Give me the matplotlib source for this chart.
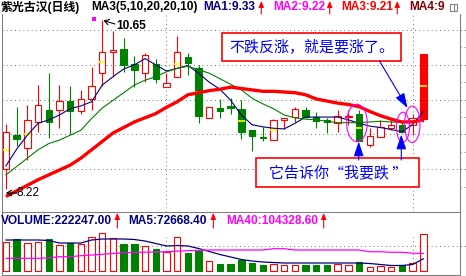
import matplotlib
matplotlib.use("Agg")
import matplotlib.pyplot as plt
from matplotlib.patches import Rectangle, Ellipse, FancyArrowPatch

# daily bars
opens = [8.50, 8.99, 8.80, 9.18, 9.35, 9.35, 9.48, 9.34, 9.51, 9.88,
         10.19, 10.23, 10.01, 9.88, 10.01, 9.68, 9.83, 10.11, 9.96, 9.23,
         9.38, 9.41, 9.37, 9.06, 8.97, 8.92, 9.21, 9.25, 9.35, 9.25,
         9.21, 9.17, 9.25, 9.30, 8.85, 8.97, 9.10, 9.14, 9.14, 9.22]
highs = [9.15, 9.40, 9.42, 9.71, 9.89, 9.71, 9.70, 9.64, 9.97, 10.65,
         10.48, 10.38, 10.12, 10.17, 10.09, 9.88, 10.41, 10.17, 10.00, 9.40,
         9.51, 9.52, 9.50, 9.06, 9.11, 9.22, 9.24, 9.40, 9.39, 9.33,
         9.23, 9.35, 9.35, 9.35, 9.09, 9.21, 9.21, 9.18, 9.30, 10.15]
lows = [8.22, 8.83, 8.63, 9.04, 8.95, 9.10, 9.00, 9.30, 9.35, 9.69,
        9.83, 9.90, 9.68, 9.76, 9.74, 9.68, 9.83, 9.85, 9.16, 9.23,
        9.24, 9.30, 8.93, 8.76, 8.90, 8.92, 9.08, 9.18, 9.23, 9.10,
        9.02, 9.04, 9.14, 8.90, 8.82, 8.97, 9.07, 9.02, 8.99, 9.18]
closes = [9.04, 8.93, 9.21, 9.43, 9.18, 9.48, 9.34, 9.51, 9.69, 10.18,
          10.22, 10.00, 9.93, 10.14, 9.79, 9.74, 10.18, 10.03, 9.27, 9.39,
          9.34, 9.38, 9.03, 8.98, 8.95, 9.21, 9.24, 9.37, 9.25, 9.20,
          9.18, 9.27, 9.27, 8.90, 8.98, 9.11, 9.14, 9.04, 9.23, 10.15]
volumes = [171000, 193000, 166000, 171000, 193000, 153100, 168600, 159100, 203000, 228000,
           197000, 160900, 160900, 147200, 132900, 111400, 204000, 105500, 119200, 59600,
           39900, 39900, 65500, 49500, 35700, 39900, 35700, 35700, 35700, 35700,
           35700, 43500, 35700, 53600, 23800, 32000, 26000, 38000, 45100, 222247]

# moving average lines as drawn
ma5 = [8.55, 8.79, 8.99, 9.16, 9.21, 9.28, 9.37, 9.41, 9.47, 9.71,
       9.83, 9.94, 10.00, 10.09, 10.00, 9.91, 9.95, 9.99, 9.88, 9.75,
       9.65, 9.49, 9.28, 9.14, 9.11, 9.09, 9.08, 9.16, 9.25, 9.25,
       9.25, 9.25, 9.21, 9.16, 9.12, 9.10, 9.07, 9.04, 9.14, 9.33]
ma10 = [8.42, 8.54, 8.66, 8.78, 8.87, 8.92, 8.99, 9.06, 9.23, 9.38,
        9.49, 9.60, 9.71, 9.78, 9.83, 9.90, 9.95, 9.98, 9.93, 9.88,
        9.80, 9.72, 9.64, 9.52, 9.44, 9.37, 9.28, 9.24, 9.22, 9.21,
        9.19, 9.17, 9.17, 9.17, 9.18, 9.19, 9.18, 9.17, 9.18, 9.22]
ma20 = [8.11, 8.19, 8.27, 8.35, 8.42, 8.49, 8.56, 8.66, 8.78, 8.90,
        9.02, 9.10, 9.18, 9.24, 9.30, 9.39, 9.47, 9.57, 9.60, 9.63,
        9.65, 9.68, 9.66, 9.64, 9.62, 9.62, 9.61, 9.60, 9.57, 9.51,
        9.48, 9.45, 9.43, 9.40, 9.33, 9.27, 9.22, 9.18, 9.18, 9.21]
vol_ma5 = [184700, 184700, 184700, 184700, 181700, 166800, 166800, 166800, 184700, 190700,
           190700, 190700, 187700, 178700, 163800, 149000, 151900, 149000, 134100, 116200,
           98300, 83400, 68500, 59600, 53600, 50600, 47700, 47700, 47700, 47700,
           47700, 47700, 47700, 47700, 44700, 38700, 32800, 32800, 38700, 72668]
vol_ma40 = [75700, 75700, 75700, 75700, 77500, 85200, 85200, 91200, 95300, 99500,
            104300, 109000, 110200, 112000, 113200, 115000, 118000, 120900, 123300, 125100,
            125100, 125100, 125100, 125100, 125100, 132900, 132900, 125100, 125100, 125100,
            125100, 125100, 125100, 125100, 115000, 115000, 111400, 111400, 106000, 104328.6]

# yellow average-price ticks
mark_idx = [0, 2, 9, 16, 18, 22, 25, 33, 39]
mark_price = [8.78, 9.01, 10.04, 10.01, 9.61, 9.19, 9.06, 9.10, 9.69]

price_grid = [8.5, 9.0, 9.5, 10.0, 10.5]
month_lines = [15, 38]

RED, GREEN, NAVY, MAG = "#ff0000", "#008000", "#000080", "#ff00ff"
GREY = "#808080"
DOT = (0, (1, 3))

W, H = 466, 276
fig = plt.figure(figsize=(W / 100, H / 100), dpi=100)
fig.patch.set_facecolor("white")


def fx(x):
    return x / W


def fy(y):
    return 1 - y / H


ax = fig.add_axes([fx(2), fy(212), fx(460) - fx(2), fy(14) - fy(212)])
axv = fig.add_axes([fx(2), fy(275), fx(460) - fx(2), fy(212) - fy(275)], sharex=ax)
for a in (ax, axv):
    a.set_xticks([])
    a.set_yticks([])
    for s in a.spines.values():
        s.set_color(GREY)
        s.set_linewidth(0.8)
ax.spines["top"].set_visible(False)
ax.spines["bottom"].set_visible(False)
ax.set_xlim(-0.37, 42.43)
ax.set_ylim(7.887, 10.73)
axv.set_ylim(-23800, 351500)

# grid
for p in price_grid:
    ax.axhline(p, xmin=0, xmax=1.013, color=GREY, lw=0.75, ls=DOT, clip_on=False, zorder=1)
    ax.axhline(p - 0.25, xmin=1, xmax=1.013, color=GREY, lw=0.75, ls=DOT, clip_on=False)
for m in month_lines:
    ax.axvline(m, color=GREY, lw=0.75, ls=DOT, zorder=1)
    axv.vlines(m, 0, 202000, color=GREY, lw=0.75, ls=DOT, zorder=1)
axv.axhline(150000, xmin=0, xmax=1.013, color=GREY, lw=0.75, ls=DOT, clip_on=False, zorder=1)

# candles
w = 0.6
for i in range(len(closes)):
    o, h, l, c = opens[i], highs[i], lows[i], closes[i]
    up = c >= o
    col = RED if up else GREEN
    ax.vlines(i, l, h, color=col, lw=0.8, zorder=3)
    face = "white" if up else col
    if i == len(closes) - 1:
        face = RED
    ax.add_patch(Rectangle((i - w / 2, min(o, c)), w, max(abs(c - o), 0.012),
                           fc=face, ec=col, lw=0.8, zorder=4))
    axv.add_patch(Rectangle((i - w / 2, 0), w, volumes[i],
                            fc="white" if up else col, ec=col, lw=0.8, zorder=3))

for i, p in zip(mark_idx, mark_price):
    ax.hlines(p, i - w / 2, i + w / 2, color="#ffff00", lw=1.2, zorder=5)

x = list(range(len(closes)))
ax.plot(x, ma5, color=NAVY, lw=0.8, zorder=6)
ax.plot(x, ma10, color=GREEN, lw=0.8, zorder=6)
ax.plot(x, ma20, color=RED, lw=2.4, zorder=7, solid_capstyle="butt")
axv.plot(x, vol_ma5, color=NAVY, lw=0.9, zorder=5)
axv.plot(x, vol_ma40, color=MAG, lw=0.9, zorder=5)

# ellipses around the key candles
for cx, cy, ew, eh in [(32.8, 9.165, 1.93, 0.537), (37.1, 9.105, 1.21, 0.43),
                       (37.97, 9.146, 1.45, 0.524)]:
    ax.add_patch(Ellipse((cx, cy), ew, eh, fill=False, ec=MAG, lw=0.8, zorder=8))

# header rows
bold = dict(fontsize=8.6, fontweight="bold", family=["Liberation Sans", "Noto Sans CJK SC"],
            va="center", ha="left")
fig.text(fx(1), fy(7), "紫光古汉(日线)", color="black", **bold)
fig.text(fx(91), fy(7), "MA3(5,10,20,20,10)", color="black", **bold)
fig.text(fx(203), fy(7), "MA1:9.33", color=NAVY, **bold)
fig.text(fx(273), fy(7), "MA2:9.22", color=MAG, **bold)
fig.text(fx(341), fy(7), "MA3:9.21", color=RED, **bold)
fig.text(fx(409), fy(7), "MA4:9", color="#800000", **bold)
fig.text(fx(1), fy(221.5), "VOLUME:222247.00", color=NAVY, **bold)
fig.text(fx(128), fy(221.5), "MA5:72668.40", color=NAVY, **bold)
fig.text(fx(226), fy(221.5), "MA40:104328.60", color=MAG, **bold)


def arrow(x0, y0, x1, y1, col, style, scale, lw):
    fig.add_artist(FancyArrowPatch((fx(x0), fy(y0)), (fx(x1), fy(y1)),
                                   transform=fig.transFigure, arrowstyle=style,
                                   mutation_scale=scale, color=col, lw=lw,
                                   shrinkA=0, shrinkB=0))


small = "-|>,head_length=0.6,head_width=0.25"
for ax_x in [261.3, 329.7, 397.3]:
    arrow(ax_x, 14, ax_x, 1, RED, small, 6, 0.8)
for ax_x in [117.3, 213.3, 323.7]:
    arrow(ax_x, 228, ax_x, 213, RED, small, 6, 0.8)

fig.add_artist(Rectangle((fx(450), fy(11)), fx(457) - fx(450), fy(4) - fy(11),
                         transform=fig.transFigure, fill=False, ec=GREY, lw=0.8))
fig.add_artist(plt.Line2D([fx(453.5), fx(453.5)], [fy(11), fy(4)],
                          transform=fig.transFigure, color=GREY, lw=0.8))

# high / low labels
fig.add_artist(Rectangle((fx(91.5), fy(21)), 4 / W, 4 / H, transform=fig.transFigure,
                         fc=MAG, ec="none"))
arrow(115, 24, 103.5, 20.5, "black", "->,head_length=0.4,head_width=0.25", 8, 0.8)
fig.text(fx(116), fy(26), "10.65", fontsize=8.6, fontweight="bold",
         family="Liberation Sans", va="center", ha="left")
arrow(17, 193, 6, 193, "black", "->,head_length=0.4,head_width=0.25", 8, 0.8)
fig.text(fx(16.5), fy(192.5), "8.22", fontsize=8.6, family="Liberation Sans",
         va="center", ha="left")

# comment boxes
for x0, y0, x1, y1 in [(222, 33, 401, 61), (256, 158, 419, 187)]:
    fig.add_artist(Rectangle((fx(x0), fy(y1)), fx(x1) - fx(x0), fy(y0) - fy(y1),
                             transform=fig.transFigure, fc="white", ec=RED, lw=1.2))
cjk = dict(fontsize=10.8, family=["Noto Sans CJK SC", "DejaVu Sans"], color="#0000ff",
           va="center", ha="center")
fig.text(fx(311.5), fy(47), "不跌反涨，就是要涨了。", **cjk)
fig.text(fx(338), fy(173), "它告诉你“我要跌 ”", **cjk)

big = "-|>,head_length=0.9,head_width=0.3"
arrow(379.5, 61, 407.5, 108, "#0000ff", big, 10, 0.8)
arrow(358.7, 160, 358.7, 141.5, "#0000ff", big, 10, 0.8)
arrow(401.3, 160, 401.3, 134.5, "#0000ff", big, 10, 0.8)

fig.savefig("out.png", dpi=100, facecolor="white")
